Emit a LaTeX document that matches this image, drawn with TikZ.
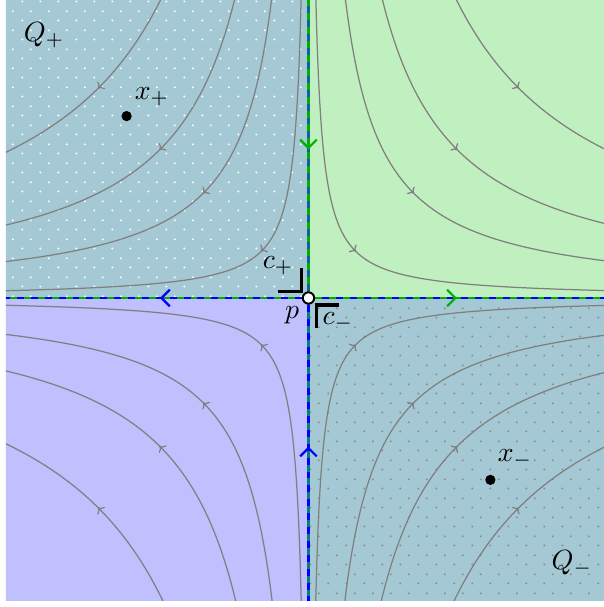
\documentclass[tikz,border=0pt]{standalone}
\usetikzlibrary{arrows.meta,patterns}
\definecolor{qcol}{RGB}{164,201,213}
\definecolor{gfill}{RGB}{192,240,192}
\definecolor{bfill}{RGB}{192,192,255}
\definecolor{lgreen}{RGB}{0,176,0}
\definecolor{lblue}{RGB}{0,0,255}
\definecolor{lteal}{RGB}{16,96,160}
\definecolor{lteal2}{RGB}{0,128,128}
\definecolor{dotgray}{RGB}{140,140,140}
\definecolor{trajgray}{RGB}{128,128,128}
\pgfdeclarepatternformonly{qdots}{\pgfpointorigin}{\pgfqpoint{6.5pt}{6.7pt}}{\pgfqpoint{6.5pt}{6.7pt}}{%
  \pgfpathcircle{\pgfqpoint{1.625pt}{1.675pt}}{0.4pt}%
  \pgfpathcircle{\pgfqpoint{4.875pt}{5.025pt}}{0.4pt}%
  \pgfusepath{fill}}
\tikzset{
  traj/.style={draw=trajgray, line width=0.45pt},
  trajtip/.style={draw=trajgray, line width=0.45pt, -{To[length=1.8pt,width=3.8pt]}},
  axbase/.style={line width=0.8pt, draw=#1},
  axdash/.style={line width=0.8pt, draw=#1, dash pattern=on 2.5pt off 2.5pt},
  axtip/.style={line width=0.8pt, draw=#1, -{Straight Barb[length=3pt,width=6pt]}},
  pnode/.style={circle, draw=black, fill=white, line width=0.7pt, inner sep=0pt, minimum size=4.1pt},
  dotnode/.style={circle, fill=black, inner sep=0pt, minimum size=3.7pt},
  corner/.style={line width=1.1pt, line join=miter, draw=black},
  lbl/.style={inner sep=0pt}
}
\begin{document}
\begin{tikzpicture}[x=1.88cm,y=1.88cm]
\useasboundingbox (-2.0774,-2.0808) rectangle (1.9899,2.0067);
\begin{scope}
\clip (-2.037,-2.040) rectangle (1.9899,2.0067);
% regions
\fill[qcol] (-2.1,0) rectangle (0,2.1);
\fill[pattern=qdots, pattern color=white] (-2.1,0) rectangle (0,2.1);
\fill[gfill] (0,0) rectangle (2.1,2.1);
\fill[bfill] (-2.1,-2.1) rectangle (0,0);
\fill[qcol] (0,-2.1) rectangle (2.1,0);
\fill[pattern=qdots, pattern color=dotgray] (0,-2.1) rectangle (2.1,0);
% trajectories
\foreach \cc in {0.1,0.5,1,2}{
  \foreach \sx/\sy in {1/1,-1/1,-1/-1,1/-1}{
    \pgfmathsetmacro\T{ln(2.25/sqrt(\cc))}
    \pgfmathsetmacro\rc{sqrt(\cc)}
    \draw[traj] plot[domain=-\T:\T, samples=120, variable=\t]
      ({\sx*\rc*exp(\t)},{\sy*\rc*exp(-\t)});
    \draw[trajtip] ({\sx*\rc-0.01*\sx},{\sy*\rc+0.01*\sy}) -- ({\sx*\rc+0.003*\sx},{\sy*\rc-0.003*\sy});
  }
}
% axes
\coordinate (O) at (0,0);
\coordinate (N) at (0,2.1);
\coordinate (S) at (0,-2.1);
\coordinate (E) at (2.1,0);
\coordinate (W) at (-2.1,0);
\coordinate (Wa) at (-0.97,0); \coordinate (Wb) at (-1,0);
\coordinate (Ea) at (0.97,0);  \coordinate (Eb) at (1,0);
\coordinate (Na) at (0,1.03);  \coordinate (Nb) at (0,1);
\coordinate (Sa) at (0,-1.03); \coordinate (Sb) at (0,-1);
\draw[axbase=lblue] (O) -- (W);
\draw[axdash=lgreen] (O) -- (W);
\draw[axbase=lgreen] (O) -- (E);
\draw[axdash=lblue] (O) -- (E);
\draw[axbase=lteal] (O) -- (N);
\draw[axdash=lgreen] (O) -- (N);
\draw[axbase=lblue] (O) -- (S);
\draw[axdash=lteal2] (O) -- (S);
\draw[axtip=lblue] (Wa) -- (Wb);
\draw[axtip=lgreen] (Ea) -- (Eb);
\draw[axtip=lgreen] (Na) -- (Nb);
\draw[axtip=lblue] (Sa) -- (Sb);
\end{scope}
% corners
\draw[corner] (-0.205,0.045) -- (-0.046,0.045) -- (-0.046,0.202);
\draw[corner] (0.205,-0.047) -- (0.055,-0.047) -- (0.055,-0.202);
% saddle point
\node[pnode] (p) at (O) {};
% points
\node[dotnode] (xp) at (-1.2247,1.2247) {};
\node[dotnode] (xm) at (1.2247,-1.2247) {};
% labels
\node[lbl] (lxp) at (-1.054,1.354) {$x_+$};
\node[lbl] (lxm) at (1.391,-1.084) {$x_-$};
\node[lbl] (lQp) at (-1.781,1.771) {$Q_+$};
\node[lbl] (lQm) at (1.774,-1.785) {$Q_-$};
\node[lbl] (lcp) at (-0.205,0.215) {$c_+$};
\node[lbl] (lcm) at (0.199,-0.162) {$c_-$};
\node[lbl] (lp) at (-0.111,-0.115) {$p$};
\end{tikzpicture}
\end{document}
